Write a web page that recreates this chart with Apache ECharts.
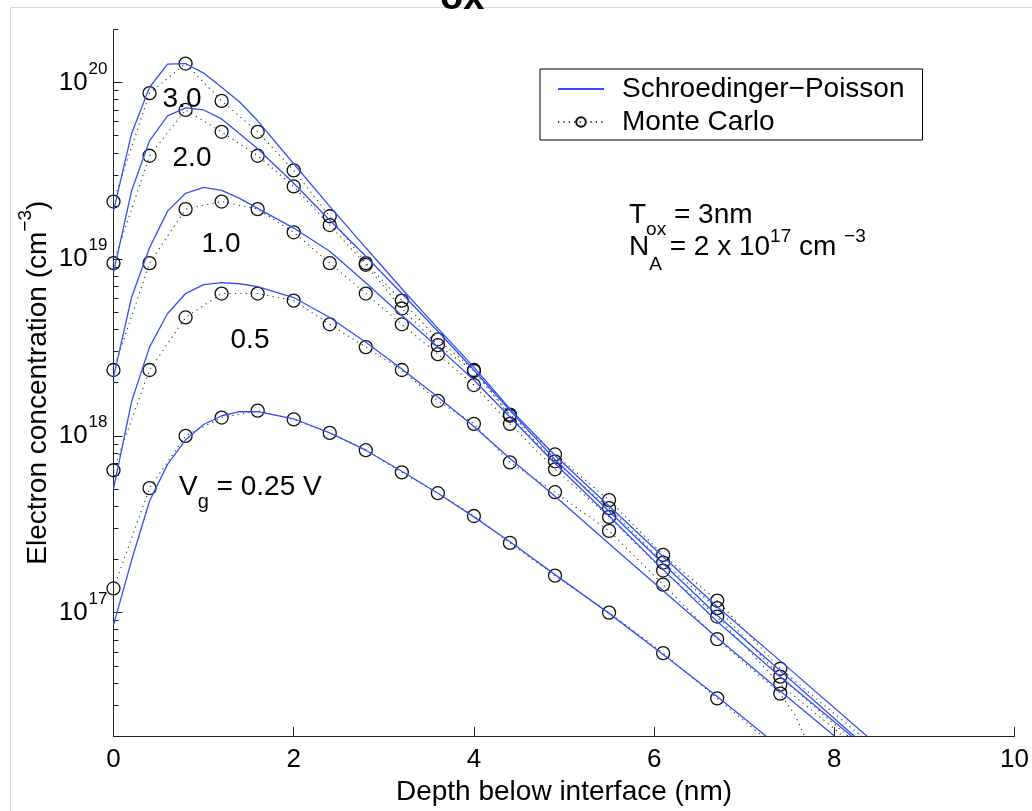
<!DOCTYPE html>
<html>
<head>
<meta charset="utf-8">
<script src="https://cdn.jsdelivr.net/npm/echarts@6/dist/echarts.min.js"></script>
<style>
html,body{margin:0;padding:0;background:#fff;}
#chart{width:1032px;height:811px;}
</style>
</head>
<body>
<div id="chart"></div>
<script>
// Electron concentration (cm^-3) versus depth below the Si/SiO2 interface (nm)
// for several gate voltages: Schroedinger-Poisson solution and Monte Carlo samples.

const gateLabels = ['3.0', '2.0', '1.0', '0.5'];

// Schroedinger-Poisson curves
const spDepth = [0, 0.2, 0.4, 0.6, 0.8, 1.0, 1.2, 1.4, 1.6, 2.0, 2.4, 2.8, 3.2, 3.6, 4.0, 4.4, 4.9, 5.5, 6.1, 6.7, 7.4];
const spVg3   = [1.87e19, 5.13e19, 9.4e19, 1.27e20, 1.28e20, 1.13e20, 9.4e19, 7.75e19, 6.07e19, 3.47e19, 1.99e19, 1.16e19, 6.8e18, 4.06e18, 2.45e18, 1.42e18, 7.74e17, 4.01e17, 2.07e17, 1.08e17, 5.33e16];
const spVg2   = [8.4e18, 2.43e19, 4.68e19, 6.47e19, 7.18e19, 6.99e19, 6.22e19, 5.13e19, 4.22e19, 2.69e19, 1.66e19, 1.04e19, 6.39e18, 3.91e18, 2.36e18, 1.39e18, 7.36e17, 3.75e17, 1.89e17, 9.66e16, 4.69e16];
const spVg1   = [2.15e18, 6.07e18, 1.16e19, 1.87e19, 2.36e19, 2.55e19, 2.45e19, 2.21e19, 1.94e19, 1.50e19, 1.11e19, 7.36e18, 4.80e18, 3.18e18, 2.07e18, 1.28e18, 6.98e17, 3.52e17, 1.75e17, 8.9e16, 4.34e16];
const spVg05  = [4.99e17, 1.56e18, 3.18e18, 4.93e18, 6.39e18, 7.18e18, 7.36e18, 7.26e18, 6.99e18, 6.07e18, 4.68e18, 3.39e18, 2.39e18, 1.66e18, 1.13e18, 7.45e17, 4.56e17, 2.45e17, 1.33e17, 7.2e16, 3.6e16];
const spVg025 = [8.5e16, 1.97e17, 4.28e17, 6.9e17, 9.5e17, 1.16e18, 1.30e18, 1.37e18, 1.37e18, 1.25e18, 1.04e18, 8.3e17, 6.31e17, 4.74e17, 3.48e17, 2.52e17, 1.64e17, 9.9e16, 5.8e16, 3.35e16, null];
// depth where each curve reaches the bottom of the plotted range
const spEndDepth = [8.36, 8.22, 8.19, 8.0, 7.24];

// Monte Carlo samples
const mcDepth = [0, 0.4, 0.8, 1.2, 1.6, 2.0, 2.4, 2.8, 3.2, 3.6, 4.0, 4.4, 4.9, 5.5, 6.1, 6.7, 7.4];
const mcVg3   = [2.12e19, 8.7e19, 1.28e20, 7.86e19, 5.26e19, 3.18e19, 1.75e19, 9.5e18, 5.83e18, 3.52e18, 2.36e18, 1.32e18, 7.85e17, 4.33e17, 2.12e17, 1.17e17, 4.81e16];
const mcVg2   = [9.5e18, 3.85e19, 6.99e19, 5.26e19, 3.85e19, 2.58e19, 1.56e19, 9.3e18, 5.26e18, 3.26e18, 2.33e18, 1.30e18, 7.18e17, 3.90e17, 1.92e17, 1.06e17, 4.34e16];
const mcVg1   = [2.36e18, 9.5e18, 1.92e19, 2.12e19, 1.92e19, 1.42e19, 9.5e18, 6.39e18, 4.28e18, 2.90e18, 1.94e18, 1.17e18, 6.47e17, 3.48e17, 1.73e17, 9.5e16, 3.91e16];
const mcVg05  = [6.39e17, 2.36e18, 4.68e18, 6.39e18, 6.39e18, 5.83e18, 4.28e18, 3.18e18, 2.36e18, 1.58e18, 1.17e18, 7.08e17, 4.80e17, 2.90e17, 1.44e17, 7.08e16, 3.48e16];
const mcVg025 = [1.37e17, 5.06e17, 1.00e18, 1.27e18, 1.39e18, 1.24e18, 1.04e18, 8.3e17, 6.22e17, 4.74e17, 3.52e17, 2.48e17, 1.62e17, 1.00e17, 5.9e16, 3.27e16, null];
// unmarked continuation of the Monte Carlo profiles beyond the last sample
const mcTailVg3   = [[8.3, 2e16]];
const mcTailVg2   = [[8.15, 2e16]];
const mcTailVg1   = [[8.1, 2e16]];
const mcTailVg05  = [[7.56, 2.65e16], [7.67, 2e16]];
const mcTailVg025 = [[7.2, 2e16]];

// axis ranges and ticks
const xTicks = [0, 2, 4, 6, 8, 10];
const yMin = 2e16, yMax = 2e20;
const yDecades = [17, 18, 19, 20];

const FONT = "'Liberation Sans', Arial, Helvetica, sans-serif";
const SP_NAME = 'Schroedinger\u2212Poisson';
const MC_NAME = 'Monte Carlo';
const BLUE = '#3350f2';
const INK = '#111';

const spSets = [spVg3, spVg2, spVg1, spVg05, spVg025];
const mcSets = [mcVg3, mcVg2, mcVg1, mcVg05, mcVg025];
const mcTails = [mcTailVg3, mcTailVg2, mcTailVg1, mcTailVg05, mcTailVg025];

const lo = Math.log10(yMin), hi = Math.log10(yMax);
const minorExp = [];
for (let k = 16; k <= 20; k++) {
  for (let m = 2; m <= 9; m++) {
    const e = Math.log10(m) + k;
    if (e >= lo - 1e-9 && e <= hi + 1e-9) minorExp.push(e);
  }
}

const series = [];
mcSets.forEach((vals, i) => {
  const data = [];
  mcDepth.forEach((d, j) => { if (vals[j] != null) data.push([d, vals[j]]); });
  mcTails[i].forEach(p => data.push({ value: p, symbol: 'none' }));
  series.push({
    name: MC_NAME, type: 'line', yAxisIndex: 0, data,
    symbol: 'circle', symbolSize: 13, showSymbol: true, showAllSymbol: true,
    itemStyle: { color: 'rgba(255,255,255,0)', borderColor: INK, borderWidth: 1.3 },
    lineStyle: { color: '#333', width: 1.1, type: [1.2, 4.2] },
    z: 2, animation: false
  });
});
spSets.forEach((vals, i) => {
  const data = [];
  spDepth.forEach((d, j) => { if (vals[j] != null) data.push([d, vals[j]]); });
  data.push([spEndDepth[i], yMin]);
  series.push({
    name: SP_NAME, type: 'line', yAxisIndex: 0, data,
    symbol: 'none', lineStyle: { color: BLUE, width: 1.3 }, itemStyle: { color: BLUE },
    z: 3, animation: false
  });
});

const axisColor = '#222';
const TXT = 28;
const chart = echarts.init(document.getElementById('chart'));
chart.setOption({
  animation: false,
  backgroundColor: '#fff',
  grid: { left: 113.5, right: 14.7, top: 29.3, bottom: 69.3, containLabel: false },
  xAxis: {
    type: 'value', min: xTicks[0], max: xTicks[xTicks.length - 1], interval: 2,
    axisLine: { show: true, lineStyle: { color: axisColor, width: 1 } },
    axisTick: { show: true, inside: true, length: 9, lineStyle: { color: axisColor } },
    axisLabel: { fontSize: 26, fontFamily: FONT, color: '#000', margin: 11 },
    splitLine: { show: false },
    name: 'Depth below interface (nm)', nameLocation: 'middle', nameGap: 35,
    nameTextStyle: { fontSize: TXT, fontFamily: FONT, color: '#000' }
  },
  yAxis: [
    {
      type: 'log', min: yMin, max: yMax, logBase: 10, position: 'left',
      axisLine: { show: true, lineStyle: { color: axisColor, width: 1 } },
      axisTick: { show: false },
      axisLabel: {
        margin: 6, showMinLabel: false, showMaxLabel: false,
        formatter: v => {
          const e = Math.log10(v);
          if (Math.abs(e - Math.round(e)) > 1e-6) return '';
          return '{b|10}{s|' + Math.round(e) + '}';
        },
        rich: {
          b: { fontSize: 26, fontFamily: FONT, color: '#000' },
          s: { fontSize: 17, fontFamily: FONT, color: '#000', padding: [0, 0, 27, 1] }
        }
      },
      splitLine: { show: false },
      name: '{m|Electron concentration (cm}{s|\u22123}{m|)}', nameLocation: 'middle',
      nameGap: 54, nameMoveOverlap: false,
      nameTextStyle: {
        rich: {
          m: { fontSize: TXT, fontFamily: FONT, color: '#000' },
          s: { fontSize: 19, fontFamily: FONT, color: '#000', padding: [0, 0, 24, 0] }
        }
      }
    },
    {
      type: 'value', min: lo, max: hi, position: 'left', offset: 0,
      axisLine: { show: false }, axisLabel: { show: false }, splitLine: { show: false },
      axisTick: { show: true, inside: true, length: 9, customValues: yDecades, lineStyle: { color: axisColor } }
    },
    {
      type: 'value', min: lo, max: hi, position: 'left', offset: 0,
      axisLine: { show: false }, axisLabel: { show: false }, splitLine: { show: false },
      axisTick: { show: true, inside: true, length: 5, customValues: minorExp, lineStyle: { color: axisColor } }
    }
  ],
  legend: {
    data: [
      { name: SP_NAME, itemStyle: { opacity: 0 } },
      { name: MC_NAME }
    ],
    orient: 'vertical', left: 540, top: 69,
    padding: [6, 18, 4, 17], itemWidth: 46, itemHeight: 12, itemGap: 5,
    borderColor: '#000', borderWidth: 1, borderRadius: 0, backgroundColor: '#fff',
    selectedMode: false,
    textStyle: { fontSize: TXT, fontFamily: FONT, color: '#000', padding: [0, 0, 0, 13] }
  },
  series,
  graphic: [
    { type: 'rect', silent: true, z: -10, shape: { x: 10.5, y: 7.5, width: 1200, height: 1000 },
      style: { fill: 'none', stroke: '#d8d8d8', lineWidth: 1 } },
    { type: 'text', silent: true, x: 440, y: -1.5,
      style: { text: 'ox', font: `bold 38px ${FONT}`, fill: '#000', align: 'left', verticalAlign: 'middle' } },
    { type: 'text', silent: true, x: 182, y: 99,
      style: { text: gateLabels[0], font: `${TXT}px ${FONT}`, fill: '#000', align: 'center', verticalAlign: 'middle' } },
    { type: 'text', silent: true, x: 192, y: 158,
      style: { text: gateLabels[1], font: `${TXT}px ${FONT}`, fill: '#000', align: 'center', verticalAlign: 'middle' } },
    { type: 'text', silent: true, x: 221, y: 244,
      style: { text: gateLabels[2], font: `${TXT}px ${FONT}`, fill: '#000', align: 'center', verticalAlign: 'middle' } },
    { type: 'text', silent: true, x: 250, y: 340,
      style: { text: gateLabels[3], font: `${TXT}px ${FONT}`, fill: '#000', align: 'center', verticalAlign: 'middle' } },
    { type: 'text', silent: true, x: 179, y: 487,
      style: {
        text: '{m|V}{s|g}{m| = 0.25 V}', align: 'left', verticalAlign: 'middle',
        rich: {
          m: { fontSize: TXT, fontFamily: FONT, color: '#000' },
          s: { fontSize: 20, fontFamily: FONT, color: '#000', padding: [30, 0, 0, 0] }
        }
      } },
    { type: 'text', silent: true, x: 629, y: 215,
      style: {
        text: '{m|T}{s|ox}{m| = 3nm}', align: 'left', verticalAlign: 'middle',
        rich: {
          m: { fontSize: TXT, fontFamily: FONT, color: '#000' },
          s: { fontSize: 19, fontFamily: FONT, color: '#000', padding: [30, 0, 0, 0] }
        }
      } },
    { type: 'text', silent: true, x: 629, y: 247,
      style: {
        text: '{m|N}{s|A}{m| = 2 x 10}{p|17}{m| cm }{p|\u22123}', align: 'left', verticalAlign: 'middle',
        rich: {
          m: { fontSize: TXT, fontFamily: FONT, color: '#000' },
          s: { fontSize: 19, fontFamily: FONT, color: '#000', padding: [36, 0, 0, 0] },
          p: { fontSize: 19, fontFamily: FONT, color: '#000', padding: [0, 0, 21, 0] }
        }
      } }
  ]
});
</script>
</body>
</html>
